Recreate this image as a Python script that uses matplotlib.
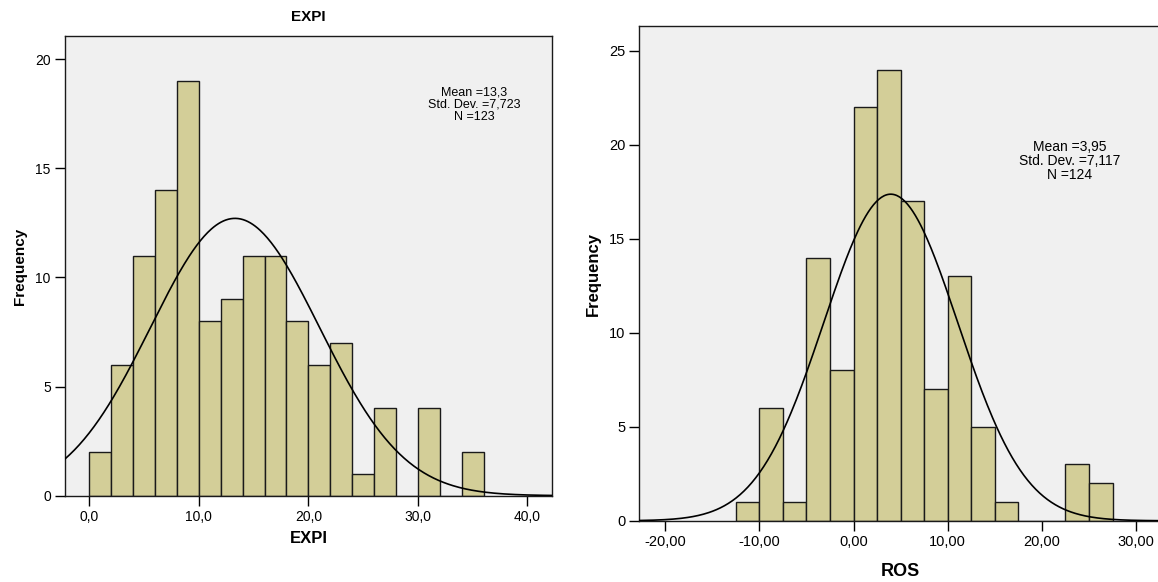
import numpy as np
import matplotlib
matplotlib.use("Agg")
import matplotlib.pyplot as plt

plt.rcParams['font.family'] = ['Liberation Sans', 'DejaVu Sans']

# ---- data ----
expi_bin_edges = [0, 2, 4, 6, 8, 10, 12, 14, 16, 18, 20, 22, 24, 26, 28, 30, 32, 34, 36]
expi_counts = [2, 6, 11, 14, 19, 8, 9, 11, 11, 8, 6, 7, 1, 4, 0, 4, 0, 2]
expi_mean, expi_sd, expi_n = 13.3, 7.723, 123
expi_xticks = [0, 10, 20, 30, 40]
expi_xticklabels = ["0,0", "10,0", "20,0", "30,0", "40,0"]
expi_yticks = [0, 5, 10, 15, 20]

ros_bin_edges = [-12.5, -10, -7.5, -5, -2.5, 0, 2.5, 5, 7.5, 10, 12.5, 15, 17.5, 20, 22.5, 25, 27.5]
ros_counts = [1, 6, 1, 14, 8, 22, 24, 17, 7, 13, 5, 1, 0, 0, 3, 2]
ros_mean, ros_sd, ros_n = 3.95, 7.117, 124
ros_xticks = [-20, -10, 0, 10, 20, 30]
ros_xticklabels = ["-20,00", "-10,00", "0,00", "10,00", "20,00", "30,00"]
ros_yticks = [0, 5, 10, 15, 20, 25]

BAR = "#D3CE98"
BG = "#F0F0F0"

fig = plt.figure(figsize=(11.58, 5.82), dpi=100)


def draw(ax, edges, counts, mean, sd, n, xlim, ylim, xticks, xtl, yticks, xlabel,
         stats_lines, stats_xy, stats_fs, tick_fs, lab_fs, xlabelpad):
    ax.set_facecolor(BG)
    edges = np.asarray(edges, float)
    widths = np.diff(edges)
    ax.bar(edges[:-1], counts, width=widths, align='edge', color=BAR,
           edgecolor='#1a1a1a', linewidth=1.0, zorder=2)
    bw = widths[0]
    xs = np.linspace(xlim[0], xlim[1], 400)
    ys = n * bw / (sd * np.sqrt(2 * np.pi)) * np.exp(-0.5 * ((xs - mean) / sd) ** 2)
    ax.plot(xs, ys, color='black', linewidth=1.2, zorder=3)
    ax.set_xlim(*xlim)
    ax.set_ylim(*ylim)
    ax.set_xticks(xticks)
    ax.set_xticklabels(xtl)
    ax.set_yticks(yticks)
    ax.tick_params(direction='out', length=7, width=1, labelsize=tick_fs, pad=3)
    for s in ax.spines.values():
        s.set_linewidth(1.0)
        s.set_color('#1a1a1a')
    ax.set_xlabel(xlabel, fontsize=lab_fs, fontweight='bold', labelpad=xlabelpad)
    ax.set_ylabel("Frequency", fontsize=lab_fs - 1, fontweight='bold', labelpad=6)
    ax.text(stats_xy[0], stats_xy[1], "\n".join(stats_lines), transform=ax.transAxes,
            ha='center', va='top', fontsize=stats_fs, linespacing=1.0)


ax1 = fig.add_axes([0.0559, 0.1483, 0.4208, 0.7893])
draw(ax1, expi_bin_edges, expi_counts, expi_mean, expi_sd, expi_n,
     (-2.25, 42.25), (0, 21.05), expi_xticks, expi_xticklabels, expi_yticks, "EXPI",
     ["Mean =13,3", "Std. Dev. =7,723", "N =123"], (0.841, 0.89), 9, 10, 12, 5)
ax1.set_title("EXPI", fontsize=11, fontweight='bold', pad=11)

ax2 = fig.add_axes([0.5521, 0.1052, 0.4508, 0.8493])
draw(ax2, ros_bin_edges, ros_counts, ros_mean, ros_sd, ros_n,
     (-22.74, 32.68), (0, 26.3), ros_xticks, ros_xticklabels, ros_yticks, "ROS",
     ["Mean =3,95", "Std. Dev. =7,117", "N =124"], (0.825, 0.77), 10, 10.5, 13, 10)

fig.savefig("out.png", dpi=100)
